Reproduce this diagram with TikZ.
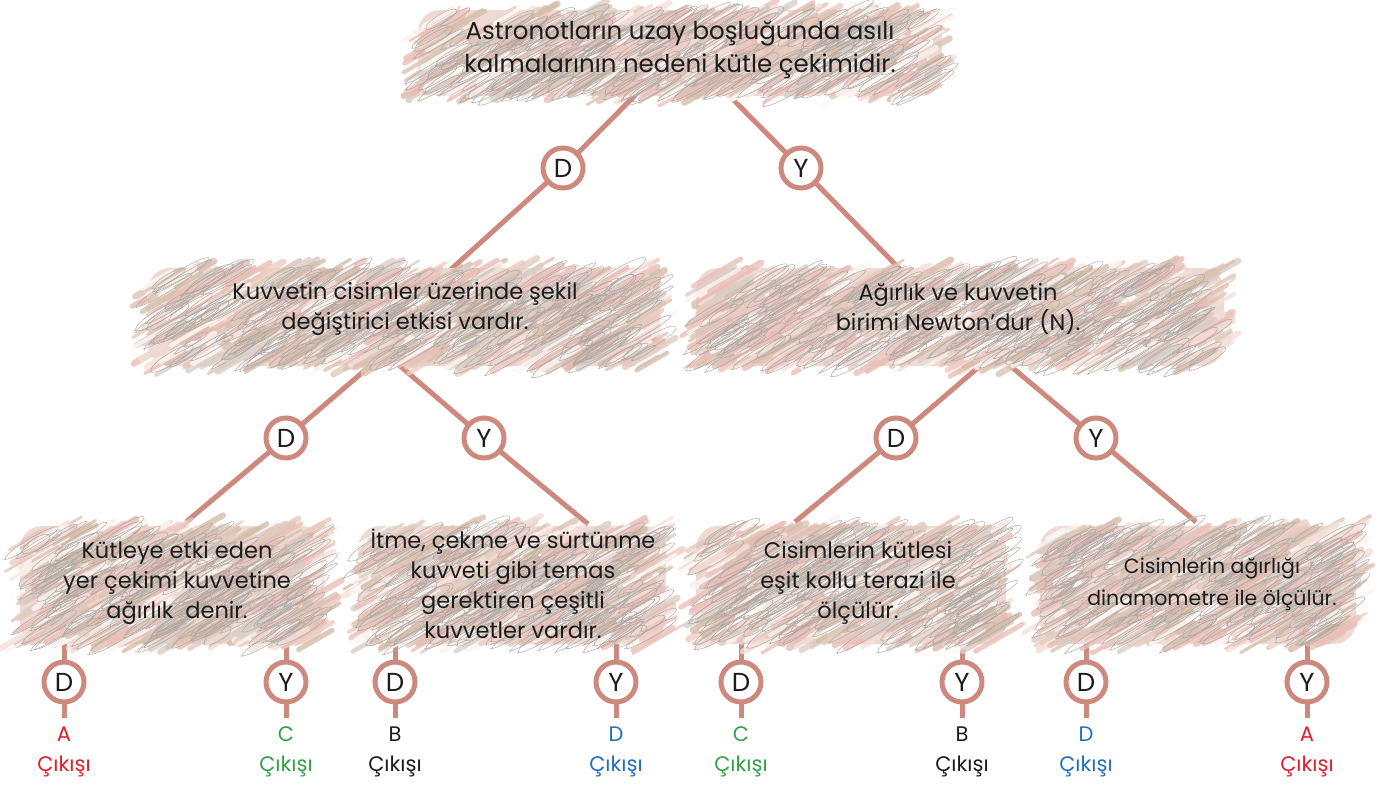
\documentclass[tikz,border=0pt]{standalone}
\usepackage{fontspec}
\setmainfont{Poppins}
\usetikzlibrary{backgrounds}

\definecolor{conn}{RGB}{206,137,126}
\definecolor{scrbase}{RGB}{238,218,211}
\definecolor{scrgray}{RGB}{172,166,162}
\definecolor{txt}{RGB}{28,28,28}
\definecolor{outred}{RGB}{222,30,45}
\definecolor{outgreen}{RGB}{50,160,70}
\definecolor{outblue}{RGB}{35,110,190}
% crayon palette for the box fills
\definecolor{scc1}{RGB}{234,192,185}
\definecolor{scc2}{RGB}{238,202,195}
\definecolor{scc3}{RGB}{232,190,182}
\definecolor{scc4}{RGB}{244,222,216}
\definecolor{scc5}{RGB}{218,195,178}
\definecolor{scc6}{RGB}{212,189,170}
\definecolor{scc7}{RGB}{224,204,190}
\definecolor{scc8}{RGB}{253,250,248}
\definecolor{scc9}{RGB}{250,244,240}
\definecolor{scc10}{RGB}{216,206,200}

% crayon-filled box: #1..#4 = x1,y1,x2,y2 (y grows downward)
\newcommand\scribblebox[4]{%
  \fill[scrbase, rounded corners=22pt] ({#1+8},{#2+6}) rectangle ({#3-8},{#4-6});
  \pgfmathtruncatemacro\sbN{(#3-#1)/62*(#4-#2)}%
  \foreach \i in {1,...,\sbN}{
    \pgfmathsetmacro\sbX{#1+14+rnd*(#3-#1-28)}
    \pgfmathsetmacro\sbY{#2+10+rnd*(#4-#2-20)}
    \pgfmathsetmacro\sbL{8+rnd*22}
    \pgfmathsetmacro\sbW{2+rnd*5}
    \pgfmathrandominteger\sbC{1}{10}
    \draw[line width=\sbW pt, line cap=round, color=scc\sbC, opacity=0.8]
      ({\sbX-0.866*\sbL},{\sbY+0.5*\sbL}) -- ({\sbX+0.866*\sbL},{\sbY-0.5*\sbL});
  }
  \pgfmathtruncatemacro\sbM{(#3-#1)/210*(#4-#2)}%
  \foreach \i in {1,...,\sbM}{
    \pgfmathsetmacro\sbX{#1+18+rnd*(#3-#1-36)}
    \pgfmathsetmacro\sbY{#2+12+rnd*(#4-#2-24)}
    \pgfmathsetmacro\sbL{14+rnd*22}
    \pgfmathsetmacro\sbH{3+rnd*5}
    \pgfmathsetmacro\sbPx{\sbX-0.866*\sbL}
    \pgfmathsetmacro\sbPy{\sbY+0.5*\sbL}
    \pgfmathsetmacro\sbQx{\sbX+0.866*\sbL}
    \pgfmathsetmacro\sbQy{\sbY-0.5*\sbL}
    \pgfmathsetmacro\sbNx{0.5*\sbH}
    \pgfmathsetmacro\sbNy{0.866*\sbH}
    \draw[scrgray, line width=0.45pt]
      (\sbPx,\sbPy) .. controls ({\sbPx+\sbNx},{\sbPy+\sbNy}) and ({\sbQx+\sbNx},{\sbQy+\sbNy}) .. (\sbQx,\sbQy)
      .. controls ({\sbQx-\sbNx},{\sbQy-\sbNy}) and ({\sbPx-\sbNx},{\sbPy-\sbNy}) .. ({\sbPx+2},{\sbPy+1});
  }
}

\tikzset{
  connline/.style={draw=conn, line width=5pt},
  boxtext/.style={align=center, text=txt, inner sep=0pt,
    font=\fontsize{22.5}{30}\selectfont},
  toptext/.style={boxtext, font=\fontsize{24.5}{33}\selectfont},
  smalltext/.style={boxtext, font=\fontsize{20.5}{32}\selectfont},
  yn/.style={circle, draw=conn, line width=5pt, fill=white,
    minimum size=40pt, inner sep=0pt, text=txt,
    font=\fontsize{26}{26}\selectfont},
  outlbl/.style={align=center, inner sep=0pt,
    font=\fontsize{21}{30}\selectfont},
}

\begin{document}
\begin{tikzpicture}[x=1pt, y=-1pt]
\useasboundingbox (0,0) rectangle (1382,787);
\pgfmathsetseed{23}

% ---- coloured statement boxes
\scribblebox{410}{4}{950}{102}
\scribblebox{140}{262}{668}{372}
\scribblebox{688}{262}{1232}{372}
\scribblebox{12}{520}{332}{650}
\scribblebox{350}{520}{674}{650}
\scribblebox{688}{520}{1014}{650}
\scribblebox{1032}{520}{1364}{650}

% ---- statements
\node[toptext] (q0) at (680,50) {Astronotların uzay boşluğunda asılı\\kalmalarının nedeni kütle çekimidir.};
\node[boxtext] (q1) at (405,309) {Kuvvetin cisimler üzerinde şekil\\değiştirici etkisi vardır.};
\node[boxtext] (q2) at (958,309) {Ağırlık ve kuvvetin\\birimi Newton’dur (N).};
\node[boxtext] (q3) at (177,583) {Kütleye etki eden\\yer çekimi kuvvetine\\ağırlık\ \ denir.};
\node[boxtext] (q4) at (513,584) {İtme, çekme ve sürtünme\\kuvveti gibi temas\\gerektiren çeşitli\\kuvvetler vardır.};
\node[boxtext] (q5) at (858,583) {Cisimlerin kütlesi\\eşit kollu terazi ile\\ölçülür.};
\node[smalltext] (q6) at (1212,584) {Cisimlerin ağırlığı\\dinamometre ile ölçülür.};

% ---- branch points inside the boxes
\coordinate (a0) at (682,48);
\coordinate (a1) at (385,353);
\coordinate (a2) at (995,353);
\coordinate (e1) at (448,272);
\coordinate (e2) at (935,305);
\coordinate (e3) at (186,522);
\coordinate (e4) at (588,524);
\coordinate (e5) at (795,522);
\coordinate (e6) at (1196,522);

% ---- true / false markers
\node[yn] (d0) at (563,168) {D};
\node[yn] (y0) at (801,168) {Y};
\node[yn] (d1) at (286,438) {D};
\node[yn] (y1) at (484,438) {Y};
\node[yn] (d2) at (896,438) {D};
\node[yn] (y2) at (1096,438) {Y};

\foreach \n/\x/\l in {1/64/D, 2/286/Y, 3/395/D, 4/616/Y, 5/741/D, 6/962/Y, 7/1086/D, 8/1307/Y}{
  \node[yn] (o\n) at (\x,682) {\l};
  \coordinate (ot\n) at (\x,640);
  \coordinate (ob\n) at (\x,718);
}

% ---- exits
\node[outlbl, text=outred]   (x1) at (64,752)   {A\\Çıkışı};
\node[outlbl, text=outgreen] (x2) at (286,752)  {C\\Çıkışı};
\node[outlbl, text=txt]      (x3) at (395,752)  {B\\Çıkışı};
\node[outlbl, text=outblue]  (x4) at (616,752)  {D\\Çıkışı};
\node[outlbl, text=outgreen] (x5) at (741,752)  {C\\Çıkışı};
\node[outlbl, text=txt]      (x6) at (962,752)  {B\\Çıkışı};
\node[outlbl, text=outblue]  (x7) at (1086,752) {D\\Çıkışı};
\node[outlbl, text=outred]   (x8) at (1307,752) {A\\Çıkışı};

% ---- connectors, kept behind everything else
\begin{scope}[on background layer]
  \draw[connline] (a0) -- (d0.center) -- (e1);
  \draw[connline] (a0) -- (y0.center) -- (e2);
  \draw[connline] (a1) -- (d1.center) -- (e3);
  \draw[connline] (a1) -- (y1.center) -- (e4);
  \draw[connline] (a2) -- (d2.center) -- (e5);
  \draw[connline] (a2) -- (y2.center) -- (e6);
  \foreach \n in {1,...,8}{
    \draw[connline] (ot\n) -- (ob\n);
  }
\end{scope}
\end{tikzpicture}
\end{document}
